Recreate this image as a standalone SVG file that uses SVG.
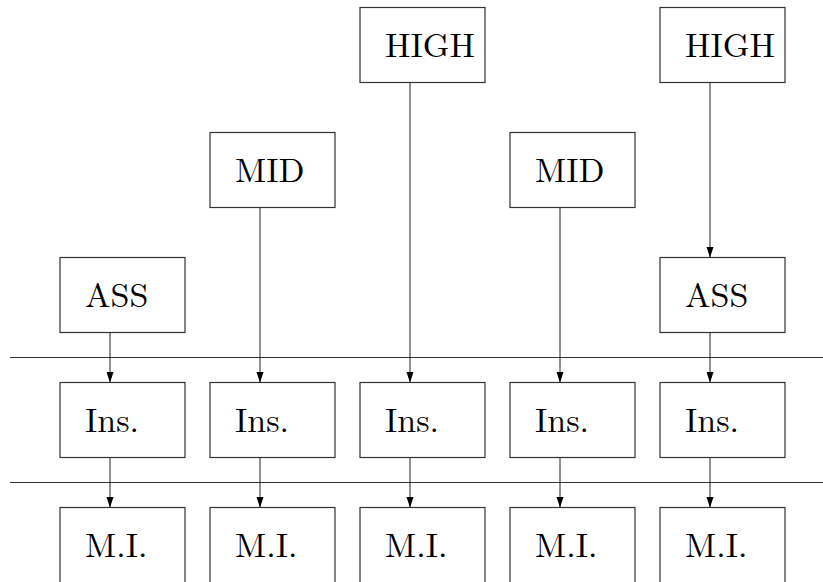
<svg xmlns="http://www.w3.org/2000/svg" width="823" height="582" viewBox="0 0 823 582">
<defs>
<style>
rect{fill:#fff;stroke:#333;stroke-width:1.2}
.c line{stroke:#222;stroke-width:1}
.sep{stroke:#333;stroke-width:1.2}
text{font-family:"Latin Modern Roman","CMU Serif","Liberation Serif","DejaVu Serif","Noto Serif","Times New Roman",Times,serif;font-size:34px;fill:#000}
</style>
<marker id="ah" viewBox="0 0 11 8" refX="11" refY="4" markerWidth="11" markerHeight="8" markerUnits="userSpaceOnUse" orient="auto">
<path d="M0,0.3 L11,4 L0,7.7 z" fill="#000"/>
</marker>
</defs>
<rect width="823" height="582" style="fill:#fff;stroke:none"/>
<line class="sep" x1="10" y1="357.5" x2="823" y2="357.5"/>
<line class="sep" x1="10" y1="482.5" x2="823" y2="482.5"/>
<g id="high1"><rect x="360" y="7.5" width="125" height="75"/><text x="385" y="56.5">HIGH</text></g>
<g id="high2"><rect x="660" y="7.5" width="125" height="75"/><text x="685" y="56.5">HIGH</text></g>
<g id="mid1"><rect x="210" y="132.5" width="125" height="75"/><text x="235" y="181.5">MID</text></g>
<g id="mid2"><rect x="510" y="132.5" width="125" height="75"/><text x="535" y="181.5">MID</text></g>
<g id="ass1"><rect x="60" y="257.5" width="125" height="75"/><text x="85" y="306.5">ASS</text></g>
<g id="ass2"><rect x="660" y="257.5" width="125" height="75"/><text x="685" y="306.5">ASS</text></g>
<g id="ins1"><rect x="60" y="382.5" width="125" height="75"/><text x="85" y="431.5">Ins.</text></g>
<g id="ins2"><rect x="210" y="382.5" width="125" height="75"/><text x="235" y="431.5">Ins.</text></g>
<g id="ins3"><rect x="360" y="382.5" width="125" height="75"/><text x="385" y="431.5">Ins.</text></g>
<g id="ins4"><rect x="510" y="382.5" width="125" height="75"/><text x="535" y="431.5">Ins.</text></g>
<g id="ins5"><rect x="660" y="382.5" width="125" height="75"/><text x="685" y="431.5">Ins.</text></g>
<g id="mi1"><rect x="60" y="507.5" width="125" height="85"/><text x="85" y="556.5">M.I.</text></g>
<g id="mi2"><rect x="210" y="507.5" width="125" height="85"/><text x="235" y="556.5">M.I.</text></g>
<g id="mi3"><rect x="360" y="507.5" width="125" height="85"/><text x="385" y="556.5">M.I.</text></g>
<g id="mi4"><rect x="510" y="507.5" width="125" height="85"/><text x="535" y="556.5">M.I.</text></g>
<g id="mi5"><rect x="660" y="507.5" width="125" height="85"/><text x="685" y="556.5">M.I.</text></g>
<g class="c" id="connectors">
<line x1="110" y1="332.5" x2="110" y2="382.5" marker-end="url(#ah)"/>
<line x1="260" y1="207.5" x2="260" y2="382.5" marker-end="url(#ah)"/>
<line x1="410" y1="82.5" x2="410" y2="382.5" marker-end="url(#ah)"/>
<line x1="560" y1="207.5" x2="560" y2="382.5" marker-end="url(#ah)"/>
<line x1="710" y1="82.5" x2="710" y2="257.5" marker-end="url(#ah)"/>
<line x1="710" y1="332.5" x2="710" y2="382.5" marker-end="url(#ah)"/>
<line x1="110" y1="457.5" x2="110" y2="507.5" marker-end="url(#ah)"/>
<line x1="260" y1="457.5" x2="260" y2="507.5" marker-end="url(#ah)"/>
<line x1="410" y1="457.5" x2="410" y2="507.5" marker-end="url(#ah)"/>
<line x1="560" y1="457.5" x2="560" y2="507.5" marker-end="url(#ah)"/>
<line x1="710" y1="457.5" x2="710" y2="507.5" marker-end="url(#ah)"/>
</g>
</svg>
